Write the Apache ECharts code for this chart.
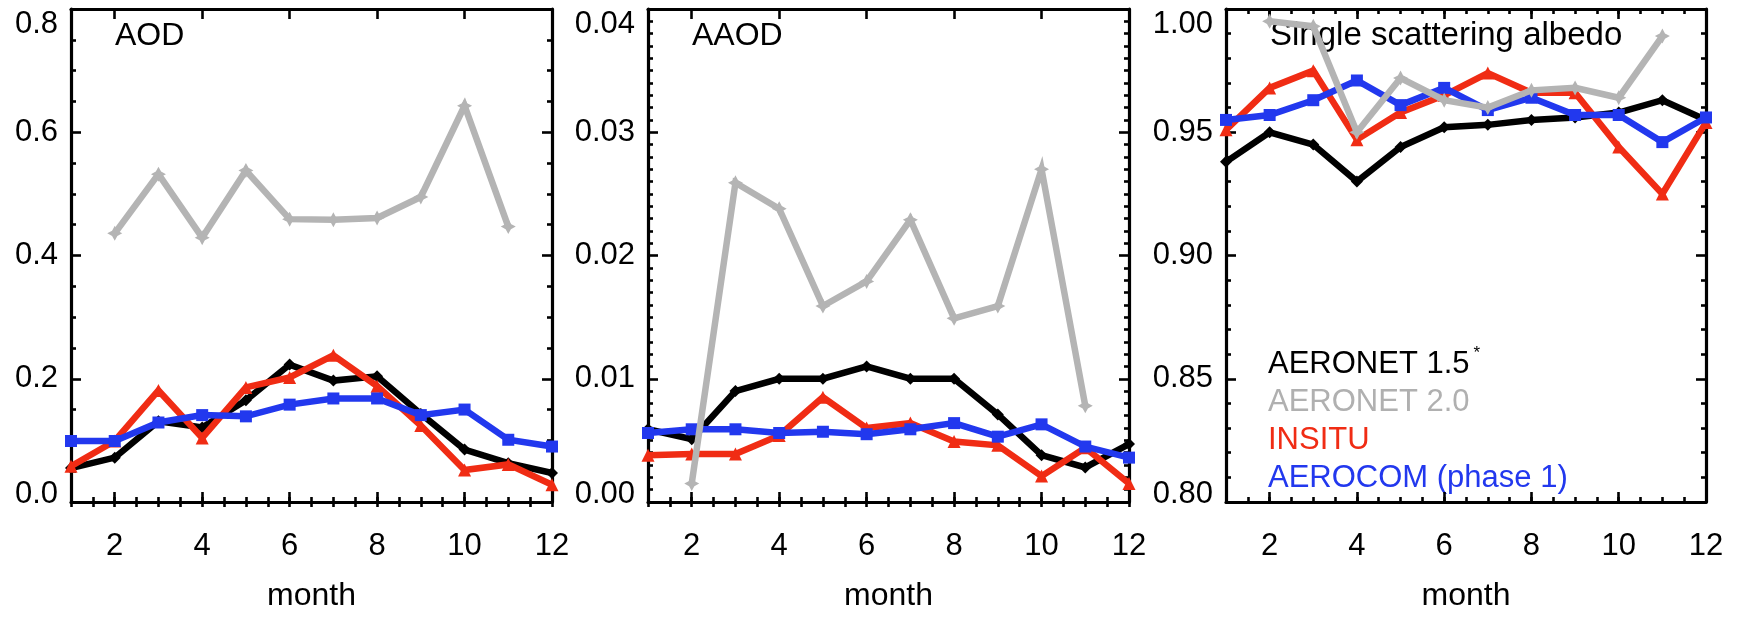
<!DOCTYPE html>
<html>
<head>
<meta charset="utf-8">
<script src="https://cdn.jsdelivr.net/npm/echarts@6/dist/echarts.min.js"></script>
<style>
html,body{margin:0;padding:0;background:#fff;}
#chart{width:1739px;height:617px;}
</style>
</head>
<body>
<div id="chart"></div>
<script>
// ---- data ----
const months = [1,2,3,4,5,6,7,8,9,10,11,12];
const xTickLabels = [2,4,6,8,10,12];

const aodBlack = [0.055,0.072,0.131,0.121,0.165,0.223,0.197,0.204,0.143,0.085,0.063,0.047];
const aodGray  = [null,0.436,0.532,0.429,0.538,0.459,0.458,0.461,0.495,0.643,0.447,null];
const aodRed   = [0.058,0.099,0.181,0.104,0.186,0.202,0.238,0.188,0.124,0.052,0.061,0.028];
const aodBlue  = [0.099,0.099,0.129,0.141,0.139,0.158,0.168,0.168,0.141,0.150,0.101,0.090];

const aaodBlack = [0.0059,0.0051,0.0090,0.0100,0.0100,0.0110,0.0100,0.0100,0.0071,0.0038,0.0028,0.0047];
const aaodGray  = [null,0.0015,0.0259,0.0238,0.0159,0.0179,0.0229,0.0149,0.0159,0.0270,0.0078,null];
const aaodRed   = [0.0038,0.0039,0.0039,0.0054,0.0085,0.0060,0.0064,0.0049,0.0046,0.0021,0.0044,0.0015];
const aaodBlue  = [0.0056,0.0059,0.0059,0.0056,0.0057,0.0055,0.0059,0.0064,0.0053,0.0063,0.0045,0.0036];

const ssaBlack = [0.938,0.950,0.945,0.930,0.944,0.952,0.953,0.955,0.956,0.958,0.963,0.955];
const ssaGray  = [null,0.995,0.993,0.950,0.972,0.963,0.960,0.967,0.968,0.964,0.989,null];
const ssaRed   = [0.951,0.968,0.975,0.947,0.958,0.965,0.974,0.966,0.966,0.944,0.925,0.954];
const ssaBlue  = [0.955,0.957,0.963,0.971,0.961,0.968,0.959,0.964,0.957,0.957,0.946,0.956];

const panelTitles = ['AOD','AAOD','Single scattering albedo'];
const legendNames = ['AERONET 1.5','AERONET 2.0','INSITU','AEROCOM (phase 1)'];
const xAxisName = 'month';

// ---- styling ----
const FAM = "'Liberation Sans', Arial, Helvetica, sans-serif";
const COLORS = {black:'#000000', gray:'#b4b4b4', red:'#f02c14', blue:'#2238ee'};
const LW = 6.5;

const panels = [
  {left:71,  width:481, min:0,   max:0.8,  interval:0.2,  minorSplit:4,  dec:1, titleSize:32, data:[aodBlack,aodRed,aodBlue,aodGray]},
  {left:648, width:481, min:0,   max:0.04, interval:0.01, minorSplit:10, dec:2, titleSize:32, data:[aaodBlack,aaodRed,aaodBlue,aaodGray]},
  {left:1226,width:480, min:0.8, max:1.0,  interval:0.05, minorSplit:5,  dec:2, titleSize:33, data:[ssaBlack,ssaRed,ssaBlue,ssaGray]}
];
const TOP = 9, HEIGHT = 504;

const grids = [], xAxes = [], yAxes = [], series = [], graphics = [];
const axisLine = {show:true, onZero:false, lineStyle:{color:'#000', width:3.2}};
const tickStyle = {width:2.6, color:'#000'};

panels.forEach((p, i) => {
  grids.push({left:p.left, top:TOP, width:p.width, height:HEIGHT, containLabel:false});
  const xBase = {gridIndex:i, type:'value', min:1, max:12, splitLine:{show:false}};
  xAxes.push(Object.assign({}, xBase, {
    position:'bottom', axisLine:axisLine,
    axisTick:{show:true, inside:true, length:10, customValues:xTickLabels, lineStyle:tickStyle},
    axisLabel:{show:true, customValues:xTickLabels, fontSize:31, fontFamily:FAM, color:'#000', margin:29},
    name:xAxisName, nameLocation:'middle', nameGap:78,
    nameTextStyle:{fontSize:32, fontFamily:FAM, color:'#000'}
  }));
  xAxes.push(Object.assign({}, xBase, {
    position:'bottom', interval:0.5, axisLine:{show:false},
    axisTick:{show:true, inside:true, length:5, lineStyle:tickStyle},
    axisLabel:{show:false}
  }));
  xAxes.push(Object.assign({}, xBase, {
    position:'top', axisLine:axisLine,
    axisTick:{show:true, inside:true, length:10, customValues:xTickLabels, lineStyle:tickStyle},
    axisLabel:{show:false}
  }));
  xAxes.push(Object.assign({}, xBase, {
    position:'top', interval:0.5, axisLine:{show:false},
    axisTick:{show:true, inside:true, length:5, lineStyle:tickStyle},
    axisLabel:{show:false}
  }));

  const yBase = {gridIndex:i, type:'value', min:p.min, max:p.max, interval:p.interval,
    splitLine:{show:false}, minorSplitLine:{show:false}, axisLine:axisLine,
    axisTick:{show:true, inside:true, length:10, lineStyle:tickStyle},
    minorTick:{show:true, splitNumber:p.minorSplit, length:5, lineStyle:tickStyle}};
  yAxes.push(Object.assign({}, yBase, {
    position:'left',
    axisLabel:{show:true, fontSize:31, fontFamily:FAM, color:'#000', margin:13,
      verticalAlignMaxLabel:'top', verticalAlignMinLabel:'bottom',
      rich:{mn:{fontSize:31, fontFamily:FAM, color:'#000', lineHeight:16}},
      formatter:(v)=>{
        const s = v.toFixed(p.dec);
        return Math.abs(v - p.min) < 1e-9 ? '{mn|' + s + '}' : s;
      }}
  }));
  yAxes.push(Object.assign({}, yBase, {position:'right', axisLabel:{show:false}}));

  const specs = [
    {name:legendNames[0], color:COLORS.black, symbol:'diamond', size:12},
    {name:legendNames[2], color:COLORS.red, symbol:'triangle', size:13},
    {name:legendNames[3], color:COLORS.blue, symbol:'rect', size:12},
    {name:legendNames[1], color:COLORS.gray, symbol:'path://M0,-10 L3.5,-3.5 L10,0 L3.5,3.5 L0,10 L-3.5,3.5 L-10,0 L-3.5,-3.5Z', size:15}
  ];
  specs.forEach((s, k) => {
    series.push({
      type:'line', name:s.name, xAxisIndex:i*4, yAxisIndex:i*2,
      data:months.map((m, j) => [m, p.data[k][j]]),
      connectNulls:false, clip:false,
      symbol:s.symbol, symbolSize:s.size, showSymbol:true,
      lineStyle:{color:s.color, width:LW, join:'miter'}, itemStyle:{color:s.color},
      animation:false, silent:true, z:2+k
    });
  });

  graphics.push({type:'text', x:p.left+44, y:36,
    style:{text:panelTitles[i], fill:'#000', font:p.titleSize+'px '+FAM, verticalAlign:'middle', textVerticalAlign:'middle'}});
});

// legend text block inside panel 3
const LEG_SIZE = 31;
const legendColors = [COLORS.black, '#b0b0b0', COLORS.red, COLORS.blue];
legendNames.forEach((n, k) => {
  graphics.push({type:'text', x:1268, y:364 + k*38,
    style:{text:n, fill:legendColors[k], font:LEG_SIZE+'px '+FAM, verticalAlign:'middle', textVerticalAlign:'middle'}});
});
const mctx = document.createElement('canvas').getContext('2d');
mctx.font = LEG_SIZE + 'px ' + FAM;
const w15 = mctx.measureText(legendNames[0]).width;
graphics.push({type:'text', x:1268 + w15 + 4, y:353,
  style:{text:'*', fill:'#000', font:'17px '+FAM, verticalAlign:'middle', textVerticalAlign:'middle'}});

const chart = echarts.init(document.getElementById('chart'), null, {renderer:'canvas'});
chart.setOption({
  animation:false,
  backgroundColor:'#ffffff',
  grid:grids, xAxis:xAxes, yAxis:yAxes, series:series, graphic:graphics
});
</script>
</body>
</html>
